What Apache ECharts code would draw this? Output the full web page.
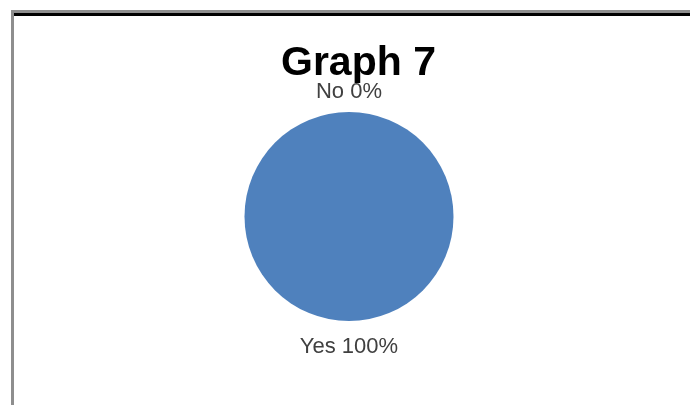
<!DOCTYPE html>
<html>
<head>
<meta charset="utf-8">
<style>
  html, body { margin: 0; padding: 0; background: #ffffff; }
  #chart { width: 690px; height: 405px; }
</style>
<script src="https://cdn.jsdelivr.net/npm/echarts@6/dist/echarts.min.js"></script>
</head>
<body>
<div id="chart"></div>
<script>
// Survey answers and their shares (percent)
const categories = ['No', 'Yes'];
const values = [0, 100];
const chartTitle = 'Graph 7';

// Label distance from the pie edge for each answer
const labelGaps = [20, 26];

const chart = echarts.init(document.getElementById('chart'), null, { renderer: 'canvas' });

const pieData = categories.map((name, i) => ({
  name: name,
  value: values[i],
  labelLine: { length: labelGaps[i], length2: 0 }
}));

const option = {
  backgroundColor: '#ffffff',
  animation: false,
  title: {
    text: chartTitle,
    left: 281,
    top: 43,
    padding: 0,
    textStyle: {
      fontFamily: 'Liberation Sans',
      fontWeight: 'bold',
      fontSize: 41,
      color: '#000000'
    }
  },
  // Chart-area frame: grey shadow edge and dark top rule
  graphic: [
    { type: 'rect', shape: { x: 11, y: 10, width: 679, height: 3 }, style: { fill: '#8e8e8e' }, silent: true },
    { type: 'rect', shape: { x: 11, y: 10, width: 3, height: 395 }, style: { fill: '#8e8e8e' }, silent: true },
    { type: 'rect', shape: { x: 14, y: 13, width: 676, height: 3 }, style: { fill: '#000000' }, silent: true }
  ],
  series: [{
    type: 'pie',
    center: [349, 216.5],
    radius: [0, 104.5],
    startAngle: 90,
    clockwise: true,
    avoidLabelOverlap: false,
    emptyCircleStyle: { color: 'transparent' },
    itemStyle: { color: '#4f81bd', borderWidth: 0 },
    label: {
      show: true,
      position: 'outside',
      distanceToLabelLine: 0,
      formatter: (p) => p.name + ' ' + p.value + '%',
      fontFamily: 'Liberation Sans',
      fontSize: 22,
      color: '#404040'
    },
    labelLine: { show: false, length: 20, length2: 0 },
    // Outside labels sit at the top/bottom of the pie: centre them horizontally
    labelLayout: () => ({ align: 'center' }),
    emphasis: { disabled: true },
    data: pieData
  }]
};

chart.setOption(option);
</script>
</body>
</html>
